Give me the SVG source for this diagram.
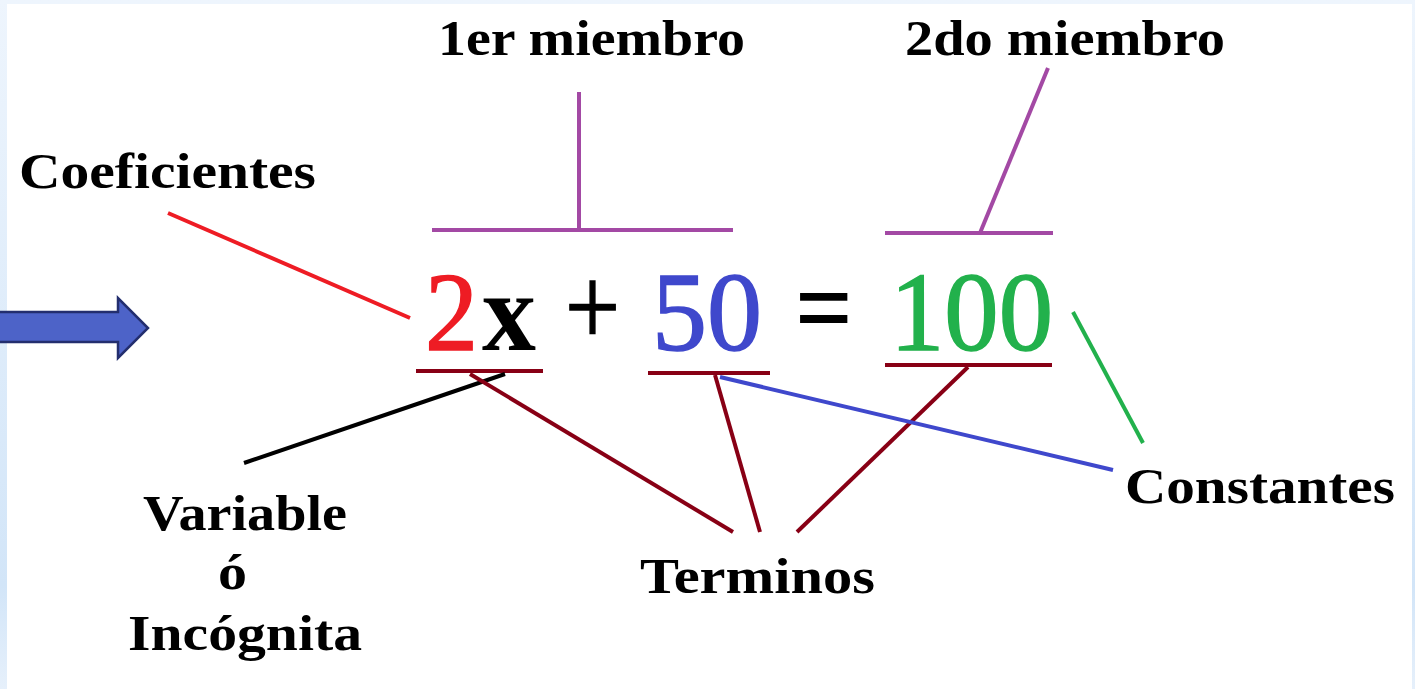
<svg xmlns="http://www.w3.org/2000/svg" width="1415" height="689" viewBox="0 0 1415 689">
<defs>
<linearGradient id="lg" x1="0" y1="0" x2="0" y2="1">
<stop offset="0" stop-color="#eef5fd"/>
<stop offset="0.85" stop-color="#d2e5f8"/>
<stop offset="1" stop-color="#e6f0fb"/>
</linearGradient>
<style>
.lbl{font-family:"Liberation Serif","DejaVu Serif",serif;font-weight:bold;font-size:50px;fill:#000}
.eq{font-family:"Liberation Serif","DejaVu Serif",serif;font-size:112px;stroke-width:1.5}
.ln{fill:none;stroke-width:4;stroke-linecap:butt}
.pur{stroke:#a349a4}
.dr{stroke:#880015}
</style>
</defs>
<rect x="0" y="0" width="1415" height="689" fill="url(#lg)"/>
<rect x="7" y="4" width="1405" height="685" fill="#ffffff"/>

<g id="arrow">
<polygon points="-2,312 118,312 118,298 148,328 118,358 118,342 -2,342" fill="#4d63c8" stroke="#232e6e" stroke-width="2.5"/>
</g>

<g id="equation">
<text class="eq" x="425" y="350" fill="#ee1c24" stroke="#ee1c24" textLength="53" lengthAdjust="spacingAndGlyphs">2</text>
<text class="eq" x="482" y="350" fill="#000" font-weight="bold" textLength="54" lengthAdjust="spacingAndGlyphs">x</text>
<text class="eq" x="565" y="345" fill="#000" stroke="#000" textLength="55" lengthAdjust="spacingAndGlyphs">+</text>
<text class="eq" x="652" y="350" fill="#3f48cc" stroke="#3f48cc" textLength="110" lengthAdjust="spacingAndGlyphs">50</text>
<text class="eq" x="795" y="345" fill="#000" font-weight="bold" textLength="58" lengthAdjust="spacingAndGlyphs">=</text>
<text class="eq" x="890" y="350" fill="#22b14c" stroke="#22b14c" textLength="163" lengthAdjust="spacingAndGlyphs">100</text>
</g>

<g id="label-1er-miembro"><text class="lbl" x="438" y="55" textLength="307" lengthAdjust="spacingAndGlyphs">1er miembro</text></g>
<g id="label-2do-miembro"><text class="lbl" x="905" y="55" textLength="320" lengthAdjust="spacingAndGlyphs">2do miembro</text></g>
<g id="label-coeficientes"><text class="lbl" x="19" y="188" textLength="297" lengthAdjust="spacingAndGlyphs">Coeficientes</text></g>
<g id="label-variable">
<text class="lbl" x="143" y="530" textLength="204" lengthAdjust="spacingAndGlyphs">Variable</text>
<text class="lbl" x="218" y="589" textLength="29" lengthAdjust="spacingAndGlyphs">ó</text>
<text class="lbl" x="128" y="650" textLength="234" lengthAdjust="spacingAndGlyphs">Incógnita</text>
</g>
<g id="label-terminos"><text class="lbl" x="640" y="593" textLength="235" lengthAdjust="spacingAndGlyphs">Terminos</text></g>
<g id="label-constantes"><text class="lbl" x="1125" y="503" textLength="270" lengthAdjust="spacingAndGlyphs">Constantes</text></g>

<g id="connectors">
<line class="ln pur" x1="432" y1="230" x2="733" y2="230"/>
<line class="ln pur" x1="579" y1="92" x2="579" y2="230"/>
<line class="ln pur" x1="885" y1="233" x2="1053" y2="233"/>
<line class="ln pur" x1="980" y1="233" x2="1048" y2="68"/>
<line class="ln" stroke="#ee1c24" x1="168" y1="213" x2="410" y2="318"/>
<line class="ln dr" x1="416" y1="371" x2="543" y2="371"/>
<line class="ln dr" x1="648" y1="373" x2="770" y2="373"/>
<line class="ln dr" x1="885" y1="365" x2="1052" y2="365"/>
<line class="ln" stroke="#000" x1="244" y1="463" x2="505" y2="374"/>
<line class="ln dr" x1="470" y1="374" x2="733" y2="532"/>
<line class="ln dr" x1="715" y1="375" x2="760" y2="532"/>
<line class="ln dr" x1="968" y1="367" x2="797" y2="532"/>
<line class="ln" stroke="#3f48cc" x1="720" y1="377" x2="1113" y2="470"/>
<line class="ln" stroke="#22b14c" x1="1073" y1="312" x2="1143" y2="443"/>
</g>
</svg>
